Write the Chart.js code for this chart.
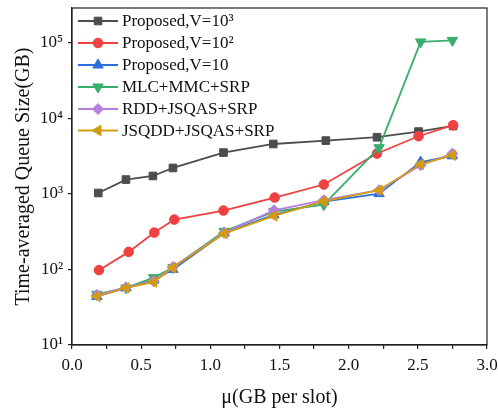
<!DOCTYPE html>
<html>
<head>
<meta charset="utf-8">
<script src="https://cdn.jsdelivr.net/npm/chart.js@4.4.1/dist/chart.umd.min.js"></script>
<style>
html,body{margin:0;padding:0;background:#fff;}
#wrap{width:498px;height:410px;position:relative;}
</style>
</head>
<body>
<div id="wrap"><canvas id="c" width="498" height="410"></canvas></div>
<script>
// ---- data ----
const seriesLabels = ['Proposed,V=10³','Proposed,V=10²','Proposed,V=10','MLC+MMC+SRP','RDD+JSQAS+SRP','JSQDD+JSQAS+SRP'];
const muBlack = [0.19,0.39,0.585,0.73,1.095,1.455,1.835,2.205,2.505,2.755];
const qBlack  = [1030,1550,1730,2210,3530,4590,5090,5640,6700,7950];
const muRed   = [0.195,0.41,0.595,0.74,1.095,1.465,1.82,2.205,2.505,2.755];
const qRed    = [98,171,308,458,603,896,1333,3430,5810,8130];
const muOther = [0.18,0.39,0.59,0.73,1.1,1.46,1.82,2.22,2.52,2.75];
const qBlue   = [44,57,72,100,305,530,790,1010,2650,3200];
const qGreen  = [47,57,78,106,320,585,720,4100,103000,108000];
const qPurple = [46,58,70,108,305,608,826,1120,2400,3430];
const qGold   = [44,57,68,106,299,512,800,1120,2470,3260];
const xTickLabels = ['0.0','0.5','1.0','1.5','2.0','2.5','3.0'];
const yTickValues = [10,100,1000,10000,100000];
const yTickLabels = ['10¹','10²','10³','10⁴','10⁵'];
const xTitle = 'μ(GB per slot)';
const yTitle = 'Time-averaged Queue Size(GB)';

function pts(xs, ys){ return xs.map((x,i)=>({x:x, y:ys[i]})); }

const styles = [
  {color:'#4d4d4d', pointStyle:'rect', r:5.4, rot:0, order:5},
  {color:'#f04141', pointStyle:'circle', r:4.8, rot:0, order:4},
  {color:'#2a6fdb', pointStyle:'triangle', r:6, rot:0, order:3},
  {color:'#3aae6c', pointStyle:'triangle', r:6, rot:180, order:2},
  {color:'#b57fe0', pointStyle:'rectRot', r:5.5, rot:0, order:1},
  {color:'#d39b12', pointStyle:'triangle', r:6, rot:270, order:0}
];
const dataSets = [pts(muBlack,qBlack), pts(muRed,qRed), pts(muOther,qBlue), pts(muOther,qGreen), pts(muOther,qPurple), pts(muOther,qGold)];

const datasets = dataSets.map((d,i)=>({
  label: seriesLabels[i],
  data: d,
  borderColor: styles[i].color,
  backgroundColor: styles[i].color,
  pointBackgroundColor: styles[i].color,
  pointBorderColor: styles[i].color,
  pointStyle: styles[i].pointStyle,
  pointRadius: styles[i].r,
  pointRotation: styles[i].rot,
  pointBorderWidth: 1,
  borderWidth: 1.8,
  showLine: true,
  tension: 0,
  order: styles[i].order
}));

const FONT = 'Liberation Serif, "Times New Roman", serif';

const framePlugin = {
  id:'frame',
  afterDatasetsDraw(chart){
    const {ctx, chartArea:a} = chart;
    ctx.save();
    ctx.strokeStyle = '#222';
    ctx.lineWidth = 1.2;
    ctx.strokeRect(a.left, a.top, a.right - a.left, a.bottom - a.top);
    ctx.restore();
  }
};

const legendPlugin = {
  id:'innerLegend',
  afterDraw(chart){
    const ctx = chart.ctx;
    const rows = [21,43,65,87,109,130.5];
    ctx.save();
    chart.data.datasets.forEach((ds,i)=>{
      const y = rows[i];
      ctx.strokeStyle = ds.borderColor;
      ctx.lineWidth = 1.8;
      ctx.beginPath(); ctx.moveTo(78,y); ctx.lineTo(118,y); ctx.stroke();
      ctx.fillStyle = ds.backgroundColor;
      ctx.strokeStyle = ds.borderColor;
      ctx.lineWidth = 1;
      Chart.helpers.drawPoint(ctx, {pointStyle: ds.pointStyle, radius: ds.pointRadius, rotation: ds.pointRotation, borderWidth:1}, 98, y);
      ctx.fillStyle = '#111';
      ctx.font = '17px ' + FONT;
      ctx.textBaseline = 'middle';
      ctx.textAlign = 'left';
      ctx.fillText(ds.label, 122, y + 1);
    });
    ctx.restore();
  }
};

new Chart(document.getElementById('c'), {
  type:'scatter',
  data:{datasets},
  options:{
    responsive:false,
    animation:false,
    devicePixelRatio:1,
    layout:{padding:{left:0, top:8, right:11, bottom:0}},
    plugins:{legend:{display:false}, tooltip:{enabled:false}},
    scales:{
      x:{
        type:'linear', min:0, max:3,
        afterFit(s){ s.height = 65; s.paddingLeft = 0; s.paddingRight = 0; },
        afterBuildTicks(s){ const t=[]; for(let i=0;i<=12;i++) t.push({value:i*0.25}); s.ticks = t; },
        ticks:{
          color:'#111', font:{family:FONT, size:17}, padding:6, maxRotation:0, autoSkip:false,
          callback(v){ const k = Math.round(v*4); return k%2===0 ? xTickLabels[k/2] : ''; }
        },
        grid:{drawOnChartArea:false, drawTicks:true, tickLength:4, color:'#222', lineWidth:1.2},
        border:{display:true, color:'#222', width:1.2},
        title:{display:true, text:xTitle, color:'#111', font:{family:FONT, size:20}, padding:{top:0,bottom:0}}
      },
      y:{
        type:'logarithmic', min:10, max:290000,
        afterFit(s){ s.width = 72; s.paddingTop = 0; s.paddingBottom = 0; },
        afterBuildTicks(s){ s.ticks = yTickValues.map(v=>({value:v})); },
        ticks:{
          color:'#111', font:{family:FONT, size:17}, padding:5, autoSkip:false,
          callback(v){ const k = yTickValues.indexOf(v); return k>=0 ? yTickLabels[k] : ''; }
        },
        grid:{drawOnChartArea:false, drawTicks:true, tickLength:4, color:'#222', lineWidth:1.2},
        border:{display:true, color:'#222', width:1.2},
        title:{display:true, text:yTitle, color:'#111', font:{family:FONT, size:20}, padding:{top:12,bottom:0}}
      }
    }
  },
  plugins:[framePlugin, legendPlugin]
});
</script>
</body>
</html>
